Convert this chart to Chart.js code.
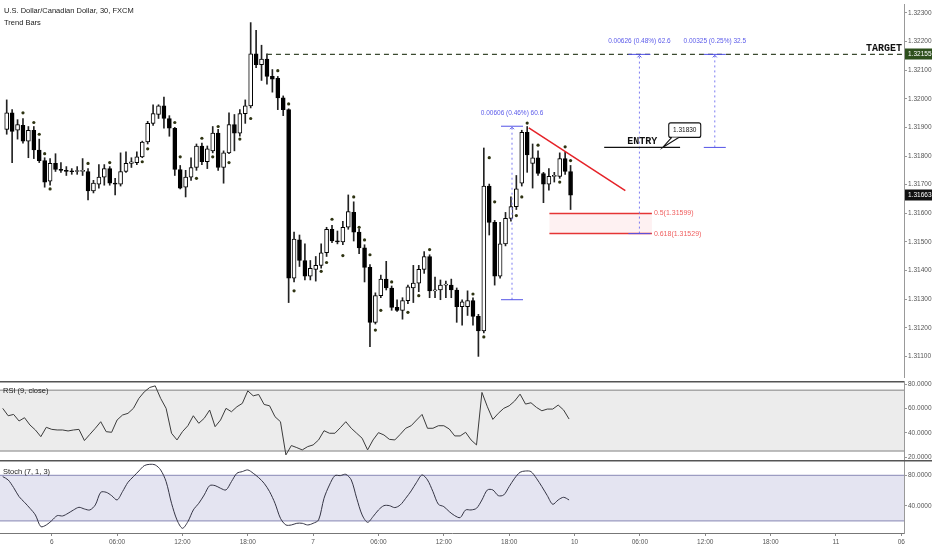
<!DOCTYPE html>
<html>
<head>
<meta charset="utf-8">
<title>USDCAD 30</title>
<script src="https://cdn.jsdelivr.net/npm/chart.js@4.4.1/dist/chart.umd.min.js"></script>
<style>
  html, body { margin: 0; padding: 0; background: #fff; }
  #wrap { position: relative; width: 932px; height: 550px; overflow: hidden; font-family: 'Liberation Sans', Arial, sans-serif; }
  canvas { position: absolute; left: 0; }
  .lbl { position: absolute; left: 4px; font-size: 7.5px; color: #222; white-space: nowrap; }
</style>
</head>
<body>
<div id="wrap">
  <canvas id="mainChart" width="932" height="381" style="top:0"></canvas>
  <canvas id="rsiChart" width="932" height="85" style="top:381px"></canvas>
  <canvas id="stochChart" width="932" height="90" style="top:460px"></canvas>
  <div class="lbl" style="top:6px">U.S. Dollar/Canadian Dollar, 30, FXCM</div>
  <div class="lbl" style="top:18px">Trend Bars</div>
  <div class="lbl" style="top:386px;left:3px">RSI (9, close)</div>
  <div class="lbl" style="top:467px;left:3px">Stoch (7, 1, 3)</div>
</div>
<script>
// 30 min bars, slot 9 = day 6 00:00, slots past 104 are empty future space
const slotCount = 166;
const xTickSlots = [9, 21, 33, 45, 57, 69, 81, 93, 105, 117, 129, 141, 153, 165];
const xTickText = ['6', '06:00', '12:00', '18:00', '7', '06:00', '12:00', '18:00', '10', '06:00', '12:00', '18:00', '11', '06'];

const priceTicks = [1.311, 1.312, 1.313, 1.314, 1.315, 1.316, 1.317, 1.318, 1.319, 1.320, 1.321, 1.322, 1.323];
const rsiTicks = [80, 60, 40, 20];
const stochTicks = [80, 40];

const opens = [
  1.31893, 1.31951, 1.31890, 1.31907, 1.31852, 1.31890, 1.31821, 1.31784, 1.31712, 1.31774,
  1.31753, 1.31750, 1.31746, 1.31746, 1.31746, 1.31746, 1.31678, 1.31702, 1.31726, 1.31756,
  1.31705, 1.31702, 1.31746, 1.31774, 1.31777, 1.31797, 1.31849, 1.31914, 1.31945, 1.31975,
  1.31931, 1.31897, 1.31753, 1.31691, 1.31726, 1.31760, 1.31835, 1.31780, 1.31818, 1.31880,
  1.31760, 1.31811, 1.31910, 1.31880, 1.31948, 1.31975, 1.32157, 1.32119, 1.32139, 1.32078,
  1.32071, 1.32003, 1.31962, 1.31373, 1.31507, 1.31435, 1.31380, 1.31404, 1.31418, 1.31462,
  1.31544, 1.31503, 1.31500, 1.31551, 1.31603, 1.31534, 1.31479, 1.31411, 1.31219, 1.31312,
  1.31370, 1.31339, 1.31271, 1.31261, 1.31295, 1.31339, 1.31356, 1.31404, 1.31449, 1.31329,
  1.31332, 1.31349, 1.31349, 1.31332, 1.31274, 1.31274, 1.31295, 1.31240, 1.31189, 1.31695,
  1.31568, 1.31380, 1.31493, 1.31582, 1.31623, 1.31705, 1.31883, 1.31774, 1.31794, 1.31739,
  1.31702, 1.31729, 1.31729, 1.31791, 1.31746
];
const highs = [
  1.31996, 1.31962, 1.31927, 1.31931, 1.31903, 1.31903, 1.31859, 1.31794, 1.31791, 1.31808,
  1.31777, 1.31763, 1.31756, 1.31763, 1.31791, 1.31756, 1.31715, 1.31770, 1.31770, 1.31763,
  1.31722, 1.31811, 1.31815, 1.31794, 1.31815, 1.31852, 1.31921, 1.31979, 1.31979, 1.32006,
  1.31941, 1.31900, 1.31767, 1.31750, 1.31794, 1.31842, 1.31845, 1.31835, 1.31903, 1.31893,
  1.31818, 1.31951, 1.31945, 1.31962, 1.31996, 1.32266, 1.32239, 1.32187, 1.32157, 1.32102,
  1.32078, 1.32010, 1.31965, 1.31534, 1.31524, 1.31493, 1.31435, 1.31449, 1.31493, 1.31551,
  1.31558, 1.31538, 1.31572, 1.31664, 1.31640, 1.31544, 1.31490, 1.31421, 1.31322, 1.31384,
  1.31432, 1.31346, 1.31298, 1.31305, 1.31349, 1.31418, 1.31418, 1.31466, 1.31455, 1.31377,
  1.31367, 1.31363, 1.31370, 1.31339, 1.31298, 1.31329, 1.31305, 1.31247, 1.31828, 1.31702,
  1.31575, 1.31568, 1.31603, 1.31657, 1.31732, 1.31890, 1.31903, 1.31842, 1.31818, 1.31743,
  1.31756, 1.31743, 1.31811, 1.31815, 1.31767
];
const lows = [
  1.31876, 1.31777, 1.31859, 1.31845, 1.31794, 1.31791, 1.31777, 1.31691, 1.31698, 1.31746,
  1.31743, 1.31732, 1.31736, 1.31736, 1.31732, 1.31647, 1.31671, 1.31688, 1.31698, 1.31698,
  1.31664, 1.31695, 1.31743, 1.31760, 1.31770, 1.31794, 1.31842, 1.31907, 1.31931, 1.31897,
  1.31869, 1.31732, 1.31685, 1.31657, 1.31715, 1.31750, 1.31770, 1.31756, 1.31811, 1.31750,
  1.31705, 1.31808, 1.31818, 1.31869, 1.31914, 1.31968, 1.32109, 1.32064, 1.32051, 1.32023,
  1.31962, 1.31941, 1.31288, 1.31360, 1.31414, 1.31367, 1.31367, 1.31363, 1.31408, 1.31449,
  1.31497, 1.31493, 1.31490, 1.31544, 1.31503, 1.31459, 1.31360, 1.31134, 1.31213, 1.31305,
  1.31332, 1.31261, 1.31257, 1.31230, 1.31284, 1.31288, 1.31326, 1.31390, 1.31305, 1.31305,
  1.31298, 1.31305, 1.31305, 1.31219, 1.31209, 1.31243, 1.31209, 1.31100, 1.31182, 1.31524,
  1.31349, 1.31373, 1.31486, 1.31572, 1.31613, 1.31695, 1.31743, 1.31688, 1.31732, 1.31637,
  1.31681, 1.31709, 1.31722, 1.31736, 1.31613
];
const closes = [
  1.31951, 1.31886, 1.31910, 1.31852, 1.31890, 1.31821, 1.31784, 1.31709, 1.31774, 1.31753,
  1.31750, 1.31746, 1.31745, 1.31747, 1.31750, 1.31678, 1.31705, 1.31726, 1.31756, 1.31705,
  1.31702, 1.31746, 1.31774, 1.31780, 1.31797, 1.31849, 1.31914, 1.31948, 1.31975, 1.31931,
  1.31897, 1.31753, 1.31688, 1.31726, 1.31760, 1.31835, 1.31780, 1.31825, 1.31880, 1.31760,
  1.31811, 1.31910, 1.31880, 1.31948, 1.31975, 1.32157, 1.32119, 1.32139, 1.32078, 1.32068,
  1.32003, 1.31962, 1.31373, 1.31510, 1.31435, 1.31380, 1.31408, 1.31418, 1.31462, 1.31544,
  1.31503, 1.31500, 1.31551, 1.31606, 1.31534, 1.31479, 1.31411, 1.31219, 1.31312, 1.31370,
  1.31339, 1.31271, 1.31261, 1.31295, 1.31343, 1.31356, 1.31404, 1.31449, 1.31329, 1.31332,
  1.31349, 1.31350, 1.31332, 1.31274, 1.31291, 1.31295, 1.31240, 1.31189, 1.31695, 1.31568,
  1.31380, 1.31493, 1.31582, 1.31623, 1.31685, 1.31883, 1.31804, 1.31794, 1.31739, 1.31702,
  1.31729, 1.31730, 1.31791, 1.31746, 1.31663
];

// Trend Bars dots
const dotSlots = [3, 5, 6, 7, 8, 15, 19, 25, 26, 31, 32, 35, 36, 38, 39, 41, 43, 45, 50, 52, 53, 58, 59, 60, 62,
  64, 65, 66, 67, 68, 69, 71, 74, 76, 78, 86, 88, 89, 90, 94, 95, 96, 98, 102, 103, 104];
const dotPrices = [1.31951, 1.31917, 1.31876, 1.31808, 1.31685, 1.31774, 1.31777, 1.31780, 1.31825, 1.31917,
  1.31797, 1.31722, 1.31862, 1.31797, 1.31903, 1.31777, 1.31859, 1.31931, 1.32098, 1.31982, 1.31329, 1.31397,
  1.31428, 1.31579, 1.31452, 1.31657, 1.31551, 1.31507, 1.31455, 1.31192, 1.31261, 1.31360, 1.31254, 1.31312,
  1.31473, 1.31318, 1.31168, 1.31794, 1.31640, 1.31592, 1.31657, 1.31915, 1.31838, 1.31709, 1.31832, 1.31784];

const rsi = [
  60.1, 54.0, 55.1, 49.7, 52.4, 46.4, 42.3, 36.8, 44.5, 42.8,
  42.3, 42.3, 41.5, 42.3, 42.8, 33.6, 38.7, 43.7, 49.1, 40.9,
  40.4, 50.5, 54.6, 56.0, 60.1, 68.3, 73.7, 77.3, 78.6, 68.3,
  60.1, 39.6, 34.1, 40.9, 45.8, 54.0, 47.8, 51.9, 58.7, 45.0,
  50.5, 60.1, 57.3, 61.4, 64.2, 74.5, 70.4, 71.5, 63.3, 62.2,
  53.2, 49.1, 21.8, 29.5, 27.8, 25.9, 28.6, 30.0, 34.1, 41.7,
  39.6, 39.6, 44.2, 49.1, 43.7, 39.6, 35.5, 25.9, 34.1, 40.1,
  38.2, 34.6, 34.1, 38.7, 43.7, 45.8, 50.5, 55.1, 43.7, 43.7,
  45.8, 45.8, 43.1, 37.4, 37.4, 40.4, 34.1, 30.0, 73.2, 61.4,
  51.0, 56.0, 60.1, 62.2, 66.1, 71.8, 63.6, 64.7, 60.9, 58.1,
  59.5, 59.5, 62.8, 58.7, 51.3
];
const stoch = [
  78.5, 74.1, 64.0, 52.1, 44.6, 36.7, 27.9, 12.5, 14.7, 20.4,
  27.0, 26.6, 30.1, 34.5, 38.0, 35.8, 34.5, 41.1, 57.8, 57.8,
  53.4, 47.7, 58.7, 71.0, 78.5, 85.9, 93.0, 94.7, 93.9, 87.3,
  71.9, 43.3, 21.3, 10.3, 19.1, 34.5, 43.3, 54.3, 66.6, 66.6,
  63.1, 60.9, 71.9, 82.9, 85.1, 87.3, 82.9, 77.1, 69.7, 58.7,
  43.3, 23.5, 14.7, 14.7, 16.9, 16.9, 14.7, 16.9, 21.3, 49.9,
  67.5, 79.8, 79.8, 81.5, 74.1, 49.9, 27.9, 18.2, 25.7, 34.5,
  40.2, 40.2, 37.6, 41.1, 49.9, 59.6, 71.0, 80.7, 74.1, 58.7,
  42.0, 38.9, 32.3, 27.0, 24.4, 34.5, 34.5, 36.7, 47.7, 60.9,
  60.9, 53.4, 54.3, 65.3, 76.3, 84.2, 85.9, 85.1, 76.3, 65.3,
  53.4, 42.0, 47.7, 51.2, 47.7
];

// drawings (slot, price)
const lastPrice = 1.31663;
const targetPrice = 1.32155;
const targetStart = 48;
const entryPrice = 1.31830;
const entrySpan = [110.2, 124.2];
const entryTextSlot = 117.2;
const calloutSlot = 121.0;
const fibLevels = [1.31599, 1.31529];
const fibText = ['0.5(1.31599)', '0.618(1.31529)'];
const fibSpan = [100.1, 119.0];
const trendFrom = [96.3, 1.31898];
const trendTo = [114.1, 1.31679];
const measureSlots = [93.2, 116.7, 130.6];
const measureFrom = [1.31298, 1.31529, 1.31830];
const measureTo = [1.31904, 1.32155, 1.32155];
const measureText = ['0.00606 (0.46%) 60.6', '0.00626 (0.48%) 62.6', '0.00325 (0.25%) 32.5'];

const priceRange = [1.31028, 1.32331];
const rsiRange = [17.6, 82.6];
const rsiBand = [75, 25];
const stochRange = [4.1, 100.4];
const stochBand = [80, 20];

const slots = Array.from({ length: slotCount }, (_, i) => i);
const dots = new Array(closes.length).fill(null);
dotSlots.forEach((s, k) => { dots[s] = dotPrices[k]; });

const FONT = "'Liberation Sans', Arial, sans-serif";
Chart.defaults.font.family = FONT;

function seg(ctx, x1, y1, x2, y2) {
  ctx.beginPath();
  ctx.moveTo(x1, y1);
  ctx.lineTo(x2, y2);
  ctx.stroke();
}

function axisBox(ctx, x, yc, w, bg, text) {
  ctx.fillStyle = bg;
  ctx.fillRect(x, Math.round(yc) - 5.5, w - x, 11);
  ctx.fillStyle = '#fff';
  ctx.font = '6.5px ' + FONT;
  ctx.textAlign = 'left';
  ctx.textBaseline = 'middle';
  ctx.fillText(text, x + 3, yc);
}

function rightAxis(range, tickVals, digits) {
  return {
    position: 'right',
    min: range[0],
    max: range[1],
    afterFit(s) { s.width = 28; s.paddingTop = 0; s.paddingBottom = 0; },
    afterBuildTicks(s) { s.ticks = tickVals.map(v => ({ value: v })); },
    ticks: { font: { size: 6.5 }, color: '#555', padding: 1, callback: v => v.toFixed(digits) },
    grid: { drawOnChartArea: false, tickLength: 3, color: '#999' },
    border: { color: '#999' }
  };
}

const mainOverlay = {
  id: 'mainOverlay',
  beforeDatasetsDraw(chart) {
    const { ctx, scales: { x, y } } = chart;
    const x1 = x.getPixelForValue(fibSpan[0]), x2 = x.getPixelForValue(fibSpan[1]);
    const y1 = y.getPixelForValue(fibLevels[0]), y2 = y.getPixelForValue(fibLevels[1]);
    ctx.save();
    ctx.fillStyle = 'rgba(240, 60, 70, 0.07)';
    ctx.fillRect(x1, y1, x2 - x1, y2 - y1);
    ctx.restore();
  },
  afterDatasetsDraw(chart) {
    const { ctx, chartArea: a, scales: { x, y } } = chart;
    const px = v => x.getPixelForValue(v), py = v => y.getPixelForValue(v);
    ctx.save();

    // target
    ctx.strokeStyle = '#3b4a30';
    ctx.lineWidth = 1.4;
    ctx.setLineDash([5, 4]);
    seg(ctx, px(targetStart), py(targetPrice), a.right, py(targetPrice));
    ctx.setLineDash([]);
    ctx.font = "bold 10px 'Liberation Mono', monospace";
    ctx.fillStyle = '#111';
    ctx.textAlign = 'right';
    ctx.textBaseline = 'alphabetic';
    ctx.fillText('TARGET', a.right - 2, py(targetPrice) - 3);

    // trend line
    ctx.strokeStyle = '#e52228';
    ctx.lineWidth = 1.5;
    seg(ctx, px(trendFrom[0]), py(trendFrom[1]), px(trendTo[0]), py(trendTo[1]));

    // fib levels
    ctx.strokeStyle = '#e53535';
    ctx.lineWidth = 1.5;
    ctx.font = '7px ' + FONT;
    ctx.fillStyle = '#f06060';
    ctx.textAlign = 'left';
    ctx.textBaseline = 'middle';
    fibLevels.forEach((lv, k) => {
      seg(ctx, px(fibSpan[0]), py(lv), px(fibSpan[1]), py(lv));
      ctx.fillText(fibText[k], px(fibSpan[1]) + 2, py(lv));
    });

    // measures
    ctx.font = '6.5px ' + FONT;
    ctx.textAlign = 'center';
    ctx.textBaseline = 'middle';
    measureSlots.forEach((s, k) => {
      const mx = px(s), top = py(measureTo[k]), bot = py(measureFrom[k]);
      ctx.strokeStyle = '#7b7bf2';
      ctx.lineWidth = 1;
      ctx.setLineDash([2, 3]);
      seg(ctx, mx, bot, mx, top);
      ctx.setLineDash([]);
      ctx.strokeStyle = '#5353e6';
      seg(ctx, mx - 11, top, mx + 11, top);
      seg(ctx, mx - 11, bot, mx + 11, bot);
      seg(ctx, mx - 2, top + 3, mx, top + 1);
      seg(ctx, mx, top + 1, mx + 2, top + 3);
      ctx.fillStyle = '#5b5bea';
      ctx.fillText(measureText[k], mx, top - 13);
    });

    // entry
    const ey = py(entryPrice);
    ctx.strokeStyle = '#111';
    ctx.lineWidth = 1.3;
    seg(ctx, px(entrySpan[0]), ey, px(entrySpan[1]), ey);
    ctx.font = "bold 10px 'Liberation Mono', monospace";
    ctx.fillStyle = '#111';
    ctx.textAlign = 'center';
    ctx.textBaseline = 'alphabetic';
    ctx.fillText('ENTRY', px(entryTextSlot), ey - 3);

    // callout
    const tx = px(calloutSlot), bx = tx + 6, by = ey - 24.5, bw = 32, bh = 14.5;
    ctx.lineWidth = 1.1;
    ctx.beginPath();
    ctx.roundRect(bx, by, bw, bh, 2);
    ctx.fillStyle = '#fff';
    ctx.fill();
    ctx.stroke();
    ctx.beginPath();
    ctx.moveTo(bx + 3, by + bh);
    ctx.lineTo(tx, ey);
    ctx.lineTo(bx + 10, by + bh);
    ctx.fill();
    ctx.stroke();
    ctx.fillStyle = '#111';
    ctx.font = '6.5px ' + FONT;
    ctx.textBaseline = 'middle';
    ctx.fillText(entryPrice.toFixed(5), bx + bw / 2, by + bh / 2);
    ctx.restore();
  },
  afterDraw(chart) {
    const { ctx, chartArea: a, scales: { y } } = chart;
    ctx.save();
    axisBox(ctx, a.right + 1, y.getPixelForValue(targetPrice), chart.width, '#2d4f1c', targetPrice.toFixed(5));
    axisBox(ctx, a.right + 1, y.getPixelForValue(lastPrice), chart.width, '#111', lastPrice.toFixed(5));
    ctx.restore();
  }
};

function bandPlugin(id, band, fill, lineColor, sepFull) {
  return {
    id: id,
    beforeDatasetsDraw(chart) {
      const { ctx, chartArea: a, scales: { y } } = chart;
      const y1 = y.getPixelForValue(band[0]), y2 = y.getPixelForValue(band[1]);
      ctx.save();
      ctx.fillStyle = fill;
      ctx.fillRect(a.left, y1, a.right - a.left, y2 - y1);
      ctx.strokeStyle = lineColor;
      ctx.lineWidth = 1.3;
      seg(ctx, a.left, y1, a.right, y1);
      seg(ctx, a.left, y2, a.right, y2);
      ctx.restore();
    },
    afterDraw(chart) {
      const { ctx, chartArea: a } = chart;
      ctx.save();
      ctx.strokeStyle = '#555';
      ctx.lineWidth = 1.5;
      seg(ctx, 0, a.top + 0.75, sepFull ? chart.width : a.right, a.top + 0.75);
      ctx.restore();
    }
  };
}

const common = {
  responsive: false,
  animation: false,
  events: [],
  plugins: { legend: { display: false }, tooltip: { enabled: false } }
};

new Chart(document.getElementById('mainChart'), {
  type: 'bar',
  data: {
    labels: slots,
    datasets: [
      {
        data: opens.map((o, i) => [o, closes[i]]),
        grouped: false,
        barThickness: 4,
        minBarLength: 1,
        backgroundColor: opens.map((o, i) => closes[i] >= o ? '#fff' : '#000'),
        borderColor: '#000',
        borderWidth: 1,
        borderSkipped: false
      },
      {
        data: lows.map((l, i) => [l, highs[i]]),
        grouped: false,
        barThickness: 1,
        backgroundColor: '#222',
        borderWidth: 0
      },
      {
        type: 'line',
        data: dots,
        showLine: false,
        pointRadius: 1.6,
        pointBackgroundColor: '#2e3312',
        pointBorderWidth: 0,
        order: -1
      }
    ]
  },
  options: {
    ...common,
    layout: { padding: 0 },
    scales: {
      x: { display: false, offset: true },
      y: rightAxis(priceRange, priceTicks, 5)
    }
  },
  plugins: [mainOverlay]
});

new Chart(document.getElementById('rsiChart'), {
  type: 'line',
  data: {
    labels: slots,
    datasets: [{ data: rsi, borderColor: '#3c3c3c', borderWidth: 1, pointRadius: 0, tension: 0 }]
  },
  options: {
    ...common,
    layout: { padding: { bottom: 6 } },
    scales: {
      x: { display: false, offset: true },
      y: rightAxis(rsiRange, rsiTicks, 4)
    }
  },
  plugins: [bandPlugin('rsiBand', rsiBand, '#ececec', '#a8a8a8', false)]
});

new Chart(document.getElementById('stochChart'), {
  type: 'line',
  data: {
    labels: slots,
    datasets: [{ data: stoch, borderColor: '#353545', borderWidth: 1, pointRadius: 0, tension: 0.3 }]
  },
  options: {
    ...common,
    layout: { padding: 0 },
    scales: {
      x: {
        offset: true,
        afterFit(s) { s.height = 17; s.paddingLeft = 0; s.paddingRight = 0; },
        afterBuildTicks(s) { s.ticks = s.ticks.filter(t => xTickSlots.includes(t.value)); },
        ticks: {
          autoSkip: false,
          maxRotation: 0,
          font: { size: 6.5 },
          color: '#555',
          padding: 2,
          callback: v => xTickText[xTickSlots.indexOf(v)]
        },
        grid: { drawOnChartArea: false, tickLength: 3, color: '#888' },
        border: { color: '#777' }
      },
      y: rightAxis(stochRange, stochTicks, 4)
    }
  },
  plugins: [bandPlugin('stochBand', stochBand, '#e4e4f1', '#9c9cc2', true)]
});
</script>
</body>
</html>
